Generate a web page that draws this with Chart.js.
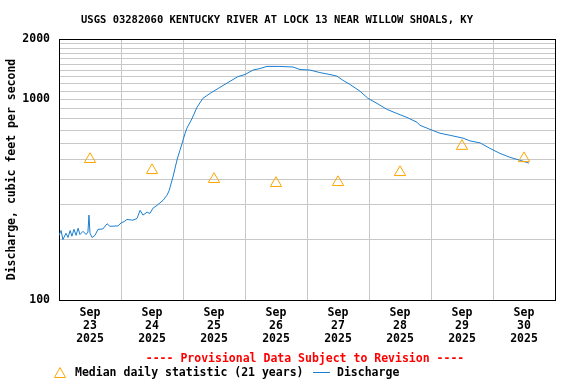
<!DOCTYPE html>
<html>
<head>
<meta charset="utf-8">
<script src="https://cdn.jsdelivr.net/npm/chart.js@4"></script>
<style>
  body { margin: 0; background: #fff; }
</style>
</head>
<body>
<canvas id="hydro" width="576" height="384"></canvas>
<script>
// hours since Sep 23 2025 00:00
var flowHours = [0, 0.8, 1.5, 2.7, 3.5, 4.3, 5.0, 5.8, 6.6, 7.4, 8.1, 9.3, 10.5, 11.2, 11.6, 12.0, 12.8, 13.9, 15.1,
    17.0, 18.6, 19.7, 22.8, 24.0, 25.2, 26.3, 28.6, 30.2, 31.4, 32.5, 34.1, 35.2, 36.4, 37.9, 39.1, 40.3, 41.8,
    42.6, 43.0, 44.1, 45.7, 46.8, 47.6, 48.8, 49.5, 51.5, 53.4, 55.7, 58.5, 62.3, 66.2, 69.3, 72.0, 75.1, 77.8,
    80.5, 85.5, 90.6, 93.3, 97.2, 101.0, 104.9, 107.6, 109.9, 112.6, 116.5, 119.6, 123.1, 127.0, 130.8, 134.7,
    138.6, 139.7, 143.6, 147.5, 151.4, 156.4, 159.1, 163.0, 166.8, 170.7, 174.6, 178.5, 181.9];
var flowValues = [210, 222, 200, 215, 205, 222, 208, 225, 210, 228, 212, 220, 212, 218, 265, 215, 205, 210, 225,
    226, 240, 233, 234, 242, 246, 252, 250, 255, 280, 265, 274, 270, 287, 296, 305, 314, 333,
    350, 365, 410, 500, 557, 600, 678, 718, 803, 912, 1012, 1072, 1148, 1231, 1300, 1330, 1400, 1425,
    1460, 1460, 1450, 1409, 1400, 1360, 1330, 1306, 1245, 1188, 1099, 1012, 955, 891, 851, 813,
    769, 743, 709, 678, 662, 641, 621, 607, 570, 538, 514, 497, 481];

var medianHours = [12, 36, 60, 84, 108, 132, 156, 180];
var medianValues = [503, 443, 400, 382, 386, 433, 585, 508];

var dayLabels = ['23', '24', '25', '26', '27', '28', '29', '30'];
var yTicks = [100, 200, 300, 400, 500, 600, 700, 800, 900, 1000, 1100, 1200, 1300, 1400, 1500, 1600, 1700, 1800, 1900, 2000];
var yLabelled = [100, 1000, 2000];

var MONO = '"DejaVu Sans Mono", "Liberation Mono", monospace';

var flowPoints = flowHours.map(function (h, i) { return { x: h, y: flowValues[i] }; });
var medianPoints = medianHours.map(function (h, i) { return { x: h, y: medianValues[i] }; });

var textPlugin = {
    id: 'texts',
    afterDraw: function (chart) {
        var ctx = chart.ctx;
        ctx.save();
        ctx.fillStyle = '#000';
        ctx.textBaseline = 'middle';
        ctx.textAlign = 'center';
        ctx.font = 'bold 10.5px ' + MONO;
        ctx.fillText('USGS 03282060 KENTUCKY RIVER AT LOCK 13 NEAR WILLOW SHOALS, KY', 277, 20);

        ctx.font = 'bold 11.5px ' + MONO;
        ctx.fillStyle = '#ff0000';
        ctx.fillText('---- Provisional Data Subject to Revision ----', 305, 359);

        // legend
        ctx.textAlign = 'left';
        ctx.fillStyle = '#000';
        ctx.strokeStyle = '#ffa500';
        ctx.lineWidth = 1;
        ctx.beginPath();
        ctx.moveTo(60, 367.5);
        ctx.lineTo(65.5, 377.5);
        ctx.lineTo(54.5, 377.5);
        ctx.closePath();
        ctx.stroke();
        ctx.fillText('Median daily statistic (21 years)', 75, 373);
        ctx.strokeStyle = '#1a7fd0';
        ctx.beginPath();
        ctx.moveTo(313, 372.5);
        ctx.lineTo(330, 372.5);
        ctx.stroke();
        ctx.fillText('Discharge', 337, 373);
        ctx.restore();
    }
};

new Chart(document.getElementById('hydro'), {
    type: 'scatter',
    data: {
        datasets: [
            {
                label: 'Median daily statistic (21 years)',
                data: medianPoints,
                pointStyle: 'triangle',
                pointRadius: 6.5,
                pointHoverRadius: 6.5,
                backgroundColor: 'rgba(0,0,0,0)',
                borderColor: '#ffa500',
                borderWidth: 1
            },
            {
                label: 'Discharge',
                data: flowPoints,
                showLine: true,
                borderColor: '#1a7fd0',
                borderWidth: 1,
                pointRadius: 0,
                tension: 0
            }
        ]
    },
    options: {
        responsive: false,
        animation: false,
        layout: { padding: { top: 39, right: 21, left: 0, bottom: 0 } },
        plugins: {
            legend: { display: false },
            title: { display: false },
            tooltip: { enabled: false }
        },
        scales: {
            x: {
                type: 'linear',
                min: 0,
                max: 192,
                afterBuildTicks: function (scale) {
                    var t = [];
                    for (var h = 0; h <= 192; h += 12) t.push({ value: h });
                    scale.ticks = t;
                },
                afterFit: function (scale) { scale.height = 84; },
                border: { color: '#000', width: 1 },
                grid: {
                    drawTicks: false,
                    color: function (c) {
                        var v = c.tick ? c.tick.value : 0;
                        if (v === 192) return '#000';
                        return v % 24 === 0 ? '#c8c8c8' : 'rgba(0,0,0,0)';
                    }
                },
                ticks: {
                    autoSkip: false,
                    maxRotation: 0,
                    padding: 7,
                    color: '#000',
                    font: { family: MONO, size: 11.5, weight: 'bold', lineHeight: '13px' },
                    callback: function (v) {
                        if (v % 24 !== 12) return '';
                        return ['Sep', dayLabels[(v - 12) / 24], '2025'];
                    }
                }
            },
            y: {
                type: 'logarithmic',
                min: 100,
                max: 2000,
                afterBuildTicks: function (scale) {
                    scale.ticks = yTicks.map(function (v) { return { value: v }; });
                },
                afterFit: function (scale) { scale.width = 59; },
                border: { color: '#000', width: 1 },
                grid: {
                    drawTicks: false,
                    color: function (c) {
                        var v = c.tick ? c.tick.value : 0;
                        return v === 2000 ? '#000' : '#c8c8c8';
                    }
                },
                ticks: {
                    autoSkip: false,
                    padding: 9,
                    color: '#000',
                    font: { family: MONO, size: 11.5, weight: 'bold' },
                    callback: function (v) {
                        return yLabelled.indexOf(v) >= 0 ? String(v) : '';
                    }
                },
                title: {
                    display: true,
                    text: 'Discharge, cubic feet per second',
                    color: '#000',
                    padding: { top: 5, bottom: 0 },
                    font: { family: MONO, size: 11.5, weight: 'bold' }
                }
            }
        }
    },
    plugins: [textPlugin]
});
</script>
</body>
</html>
